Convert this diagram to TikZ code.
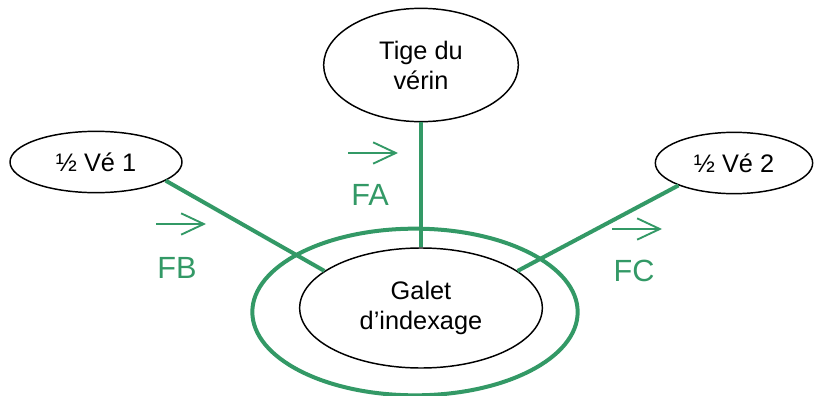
\documentclass[tikz,border=0pt]{standalone}
\usepackage{fontspec}
\setmainfont{Liberation Sans}
\usetikzlibrary{shapes,arrows.meta}
\definecolor{vert}{RGB}{51,153,102}
\begin{document}
\begin{tikzpicture}[x=0.75pt,y=-0.75pt,
      every node/.style={font=\fontsize{19}{22.5}\selectfont,align=center},
      piece/.style={ellipse,draw,line width=1.1pt,inner sep=0pt},
      liaison/.style={draw=vert,line width=3pt},
      effort/.style={draw=vert,line width=1.4pt,-{Straight Barb[length=17pt,width=16pt]}},
      nom/.style={text=vert,font=\fontsize{23}{27}\selectfont}]
    \useasboundingbox (0,0) rectangle (819,396);
    \node[piece,minimum width=146pt,minimum height=85pt] (tige) at (421,65) {Tige du\\vérin};
    \node[piece,minimum width=129pt,minimum height=46pt] (ve1) at (96,162) {½ Vé 1};
    \node[piece,minimum width=118pt,minimum height=46pt] (ve2) at (734,163) {½ Vé 2};
    \node[piece,minimum width=182pt,minimum height=90pt] (galet) at (421,308) {Galet\\d’indexage};
    \node[ellipse,draw=vert,line width=3pt,minimum width=244pt,minimum height=125pt] (zone) at (415,312) {};
    \draw[liaison] (tige.south) -- (galet.north);
    \draw[liaison] (ve1.-15) -- (galet.159);
    \draw[liaison] (ve2.-158) -- (galet.21);
    \coordinate (fa1) at (348,153);
    \coordinate (fa2) at (398,153);
    \coordinate (fb1) at (156,224);
    \coordinate (fb2) at (206,224);
    \coordinate (fc1) at (612,229);
    \coordinate (fc2) at (662,229);
    \draw[effort] (fa1) -- (fa2);
    \draw[effort] (fb1) -- (fb2);
    \draw[effort] (fc1) -- (fc2);
    \node[nom] (fa) at (370,195) {FA};
    \node[nom] (fb) at (177,268) {FB};
    \node[nom] (fc) at (634,271) {FC};
\end{tikzpicture}
\end{document}
